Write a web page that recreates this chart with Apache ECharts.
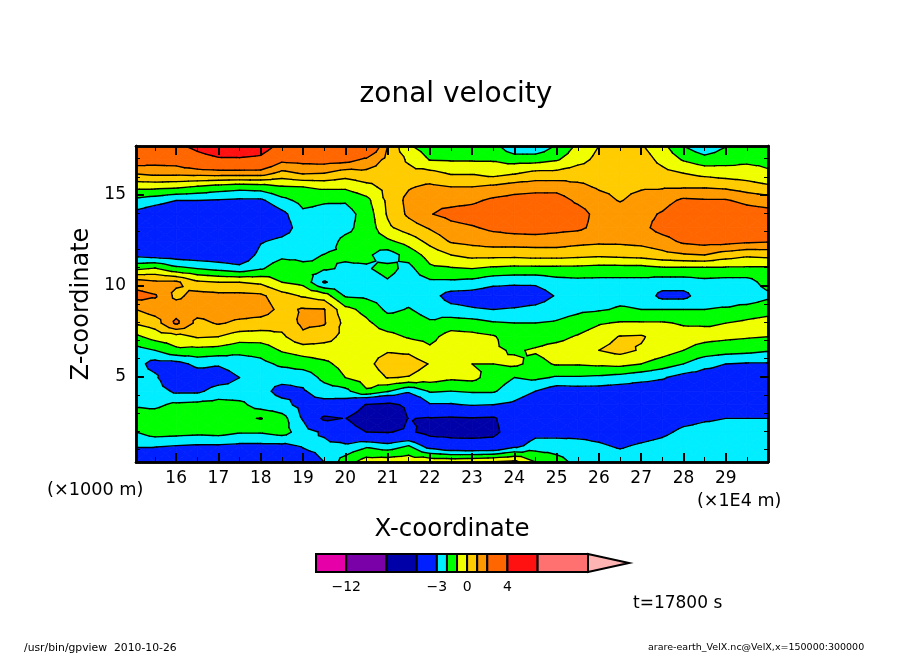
<!DOCTYPE html>
<html>
<head>
<meta charset="utf-8">
<style>
  html, body { margin: 0; padding: 0; background: #fff; }
  #main { width: 904px; height: 654px; }
</style>
<script src="https://cdn.jsdelivr.net/npm/echarts@6/dist/echarts.min.js"></script>
</head>
<body>
<div id="main"></div>
<script>
const FONT = "DejaVu Sans";

// grid of the field, x in 1E4 m, z in 1000 m
const xCoords = [15.05, 15.5, 16, 16.5, 17, 17.5, 18, 18.5, 19, 19.5, 20, 20.5, 21, 21.5, 22, 22.5,
  23, 23.5, 24, 24.5, 25, 25.5, 26, 26.5, 27, 27.5, 28, 28.5, 29, 29.5, 30];
const zCoords = [17.7, 16.95, 16.2, 15.45, 14.7, 13.95, 13.2, 12.45, 11.7, 10.95, 10.2, 9.45,
  8.7, 7.95, 7.2, 6.45, 5.7, 4.95, 4.2, 3.45, 2.7, 1.95, 1.2, 0.3];

// zonal velocity, one list per x, top to bottom
const uColumns = [
  [3.6, 2.7, 1.1, -0.7, -2.3, -3.3, -3.8, -3.8, -3.3, -1.2, 1.5, 2.4, 1, 0.1, -1.2, -2.4, -2.6, -2.6, -2.4, -2.1, -1.6, -2, -2.9, -3.6],
  [3.4, 2.5, 1.3, -0.7, -2.6, -3.7, -4.2, -4.2, -3.5, -0.9, 1.2, 2.1, 1.5, 0.5, -0.6, -2, -3.4, -2.8, -2.5, -2.2, -1.5, -1.5, -2.9, -4],
  [3.7, 2.6, 1.3, -0.8, -3, -4, -4.4, -4.4, -3.6, -1.7, 1.2, 0.75, 1.6, 2.2, -0.4, -1.2, -3.4, -4.2, -3.2, -1.8, -1.3, -1.6, -3, -4.2],
  [4.4, 3.4, 1.4, -1.1, -3, -4.1, -4.5, -4.5, -3.7, -2, 0.2, 1.4, 1.5, 0.7, 0.1, -1.3, -2.7, -3.7, -3.2, -1.7, -1.2, -1.7, -3.1, -4.3],
  [5, 3.8, 1.5, -1.4, -3.1, -4.2, -4.6, -4.6, -3.8, -2.3, 0, 1.3, 1.5, 1.1, 0, -1.4, -2.9, -3.5, -2.6, -1.6, -1.2, -1.6, -3.1, -4.3],
  [5.2, 3.8, 1.5, -1.6, -3.2, -4.3, -4.7, -4.7, -4, -2.6, 0, 1.3, 1.5, 0.8, -0.5, -1.7, -2.6, -3, -2.7, -1.7, -1.2, -1.9, -3.2, -4.3],
  [4.9, 3.6, 1.5, -1.5, -3.2, -4.1, -4, -3.1, -2.6, -2.1, -0.2, 1.2, 1.5, 0.6, -0.5, -1.6, -2.3, -2.7, -2.7, -2.5, -0.95, -1.9, -3.2, -4.5],
  [3.5, 2.3, 0.7, -1.1, -2.3, -3.3, -3.6, -2.7, -2.2, -1.5, -1, 0.4, 0.7, 0.4, -0.2, -0.9, -1.8, -2.7, -3.3, -2.7, -1.6, -1.6, -3.2, -4.5],
  [3.4, 2.4, 1.1, -1, -1.7, -2.2, -2.4, -2.4, -2.2, -1.8, -1.3, -0.1, 1.1, 1.2, 0.8, -0.6, -1.5, -2.7, -3.1, -3.3, -3.1, -2.5, -2.9, -3.6],
  [3.5, 2.5, 1, -0.8, -1.9, -2.3, -2.5, -2.4, -1.98, -1.9, -3.1, -0.5, 1.05, 1.1, 0.4, -0.5, -1.2, -1.7, -2.5, -3.4, -5.3, -3.2, -2.7, -3],
  [3.3, 2.4, 0.5, -0.8, -1.9, -2.4, -2.2, -1.8, -1.9, -2.1, -2.4, -2.1, -0.7, -0.3, -0.3, -0.4, -0.7, -1, -2.3, -3.6, -4.95, -4.2, -2.8, -1.5],
  [3.8, 1.8, 0.7, -0.3, -1.3, -1.6, -1.7, -1.7, -1.8, -2.1, -2.5, -2.2, -1.3, -0.8, -0.5, -0.4, -0.3, -0.6, -1.1, -5.1, -6, -5, -2.2, -0.5],
  [1, 0.7, 0.5, 0.3, 0.2, 0.1, -0.2, -1.2, -2.5, -1.7, -2.1, -2.4, -2.2, -1.5, -0.7, -0.1, 0.5, 0.05, -1.9, -5.4, -6.5, -5.1, -2.6, -0.4],
  [-0.9, -0.15, 0.3, 0.9, 1.3, 1.2, 0.5, -0.6, -1.6, -2.3, -2.5, -2.3, -1.95, -1.6, -1.1, -0.2, 0.5, -0.05, -2.8, -4.7, -4.95, -4.7, -2, -0.3],
  [-1.5, -1.05, 0.3, 1.2, 1.8, 1.95, 1.1, 0.3, -0.6, -1.2, -2.2, -2.6, -2.3, -1.9, -1.3, -0.8, -0.05, -0.5, -1.9, -3.1, -5.1, -5.6, -3.6, -0.2],
  [-1.5, -1.1, -0.1, 1, 1.7, 2.3, 1.7, 1.1, 0, -1.1, -2.2, -3.4, -2.7, -1.5, -0.6, -0.4, -0.3, -0.8, -2, -3.1, -5.2, -5.6, -4.2, -0.2],
  [-1.6, -1.1, -0.1, 1, 1.8, 2.5, 1.9, 1.3, 0.3, -1, -2.3, -3.5, -2.9, -1.6, -0.7, -0.4, -1, -0.7, -1.9, -2.9, -5.1, -5.6, -4.3, -0.1],
  [-1.6, -1.1, -0.4, 1.2, 2.2, 2.8, 2.2, 1.5, 0.3, -1.2, -2.7, -3.7, -3, -1.9, -0.9, -0.85, -1, -1.5, -1.9, -3, -5.2, -5.4, -4.3, 0.1],
  [-2.9, -1.4, -0.1, 1.5, 2.4, 3, 2.4, 1.5, 0.3, -1.3, -2.8, -3.7, -2.9, -2, -1.6, -1.1, -0.8, -2, -2.5, -3.2, -4, -4.1, -3.4, 0.3],
  [-2.9, -1.4, 0.3, 1.6, 2.5, 3, 2.5, 1.5, 0.4, -1.3, -2.8, -3.6, -2.7, -2, -1.4, -0.9, -1.3, -1.8, -3, -3.7, -4.1, -3.4, -2.5, -1],
  [-1.9, -1.1, 0.3, 1.6, 2.5, 2.8, 2.3, 1.5, 0.4, -1.3, -2.4, -2.9, -2.4, -1.9, -1.3, -0.6, -0.9, -2.1, -3.6, -4, -4, -3.4, -2.5, -1.6],
  [-0.8, -0.4, 0.6, 1.2, 1.8, 2.5, 2.2, 1.3, 0.3, -1.3, -2.3, -2.5, -2.2, -1.6, -0.9, -0.4, -0.9, -2.1, -3.5, -4, -3.9, -3.3, -2.7, -2.3],
  [0, 0.3, 0.6, 0.9, 1.3, 1.6, 1.7, 1.2, 0.2, -1.4, -2.3, -2.4, -2.1, -1.1, -0.4, 0, -0.8, -2.2, -3.5, -3.9, -3.8, -3.3, -2.9, -2.5],
  [0.5, 0.6, 0.7, 0.8, 0.95, 1.5, 1.6, 1.2, 0.3, -1.4, -2.3, -2.3, -1.9, -0.9, 0.05, 0.3, -0.7, -2.4, -3.6, -3.8, -3.8, -3.5, -3.1, -2.6],
  [0.1, 0.5, 0.7, 0.9, 1.3, 1.7, 1.7, 1.3, 0.4, -1.4, -2.3, -2.3, -2, -0.9, 0.1, -0.1, -1, -2.7, -3.6, -3.8, -3.7, -3.4, -2.9, -2.5],
  [-0.7, -0.3, 0.3, 0.9, 1.6, 2.1, 2.4, 1.6, 0.7, -1.2, -2.5, -3.3, -2, -0.9, -0.4, -0.5, -1.5, -2.9, -3.6, -3.7, -3.6, -3.2, -2.7, -2.3],
  [-2, -1.1, 0, 0.9, 2.2, 2.8, 2.7, 2.2, 0.9, -1.2, -2.5, -3.3, -2, -1.1, -0.6, -1, -2, -3.4, -3.8, -3.6, -3.3, -2.8, -2.4, -2.2],
  [-2.8, -1.6, -0.3, 0.9, 2.1, 3, 3, 2.4, 1, -1.2, -2.3, -2.4, -2, -1.1, -0.7, -1.4, -2.7, -3.5, -3.8, -3.5, -3.1, -2.7, -2.4, -2.2],
  [-2.05, -1.4, -0.5, 0.8, 2.1, 3, 3, 2.4, 0.5, -1.2, -2.4, -2.5, -1.9, -1, -0.8, -1.6, -3, -3.5, -3.8, -3.5, -3, -2.7, -2.4, -2.2],
  [-1.6, -1.2, -0.6, 0.5, 1.7, 2.6, 2.7, 2.2, 0.2, -1.2, -2.4, -2.7, -1.6, -0.8, -0.9, -1.7, -3.1, -3.6, -3.9, -3.5, -3, -2.7, -2.4, -2.2],
  [-1.4, -1.2, -0.9, 0.2, 1.5, 2.4, 2.5, 2.1, 0.3, -1.2, -1.6, -2.2, -1.4, -0.6, -1, -1.9, -3.1, -3.6, -3.8, -3.5, -3, -2.7, -2.4, -2.2]
];

// contour levels and the tone of each band between them
const bandEdges = [-15, -12, -8, -5, -3, -2, -1, 0, 1, 2, 4, 7, 12];
const bandColors = ["#e600a8", "#7a00a8", "#0000a8", "#0020ff", "#00eeff", "#00ff00", "#f0ff00",
  "#ffcc00", "#ff9900", "#ff6600", "#ff1111", "#ff7070"];
const overColor = "#ffb4b4";
const colorbarTip = 16.07;

const xMajorTicks = [16, 17, 18, 19, 20, 21, 22, 23, 24, 25, 26, 27, 28, 29];
const xMinorTicks = [15.5, 16.5, 17.5, 18.5, 19.5, 20.5, 21.5, 22.5, 23.5, 24.5, 25.5, 26.5, 27.5, 28.5, 29.5];
const zMajorTicks = [5, 10, 15];
const zMinorTicks = [1, 2, 3, 4, 6, 7, 8, 9, 11, 12, 13, 14, 16, 17];
const colorbarLabels = [-12, -3, 0, 4];

const xMin = 15.05, xMax = 30, zMin = 0.3, zMax = 17.7;

function clipAbove(poly, level, keepAbove) {
  const out = [];
  for (let k = 0; k < poly.length; k++) {
    const a = poly[k], b = poly[(k + 1) % poly.length];
    const aIn = keepAbove ? a[2] >= level : a[2] <= level;
    const bIn = keepAbove ? b[2] >= level : b[2] <= level;
    if (aIn) out.push(a);
    if (aIn !== bIn) {
      const t = (level - a[2]) / (b[2] - a[2]);
      out.push([a[0] + t * (b[0] - a[0]), a[1] + t * (b[1] - a[1]), level]);
    }
  }
  return out;
}

function cellTriangles(i, j) {
  const c = [
    [xCoords[i], zCoords[j], uColumns[i][j]],
    [xCoords[i + 1], zCoords[j], uColumns[i + 1][j]],
    [xCoords[i + 1], zCoords[j + 1], uColumns[i + 1][j + 1]],
    [xCoords[i], zCoords[j + 1], uColumns[i][j + 1]]
  ];
  const m = [
    (c[0][0] + c[1][0]) / 2,
    (c[0][1] + c[3][1]) / 2,
    (c[0][2] + c[1][2] + c[2][2] + c[3][2]) / 4
  ];
  return [[c[0], c[1], m], [c[1], c[2], m], [c[2], c[3], m], [c[3], c[0], m]];
}

function renderBands(params, api) {
  const children = [];
  cellTriangles(api.value(2), api.value(3)).forEach(tri => {
    bandColors.forEach((color, b) => {
      let poly = clipAbove(tri, bandEdges[b], true);
      if (poly.length) poly = clipAbove(poly, bandEdges[b + 1], false);
      if (poly.length < 3) return;
      children.push({
        type: "polygon",
        shape: { points: poly.map(p => api.coord([p[0], p[1]])) },
        style: { fill: color, stroke: color, lineWidth: 0.8 }
      });
    });
  });
  return { type: "group", children: children };
}

function renderContours(params, api) {
  const children = [];
  cellTriangles(api.value(2), api.value(3)).forEach(tri => {
    bandEdges.forEach(level => {
      const pts = [];
      for (let k = 0; k < 3; k++) {
        const a = tri[k], b = tri[(k + 1) % 3];
        if ((a[2] < level) !== (b[2] < level)) {
          const t = (level - a[2]) / (b[2] - a[2]);
          pts.push(api.coord([a[0] + t * (b[0] - a[0]), a[1] + t * (b[1] - a[1])]));
        }
      }
      if (pts.length === 2) {
        children.push({
          type: "line",
          shape: { x1: pts[0][0], y1: pts[0][1], x2: pts[1][0], y2: pts[1][1] },
          style: { stroke: "#000", lineWidth: 1.4, lineCap: "round" }
        });
      }
    });
  });
  return { type: "group", children: children };
}

function renderColorbar(params, api) {
  const b = api.value(2);
  const lo = api.coord([bandEdges[b], 0]), hi = api.coord([bandEdges[b + 1], 1]);
  return {
    type: "rect",
    shape: { x: lo[0], y: hi[1], width: hi[0] - lo[0], height: lo[1] - hi[1] },
    style: { fill: bandColors[b], stroke: "#000", lineWidth: 2 }
  };
}

function renderArrow(params, api) {
  const points = [
    api.coord([bandEdges[bandEdges.length - 1], 1]),
    api.coord([colorbarTip, 0.5]),
    api.coord([bandEdges[bandEdges.length - 1], 0])
  ];
  return {
    type: "polygon",
    shape: { points: points },
    style: { fill: overColor, stroke: "#000", lineWidth: 2 }
  };
}

const cells = [];
for (let i = 0; i < xCoords.length - 1; i++) {
  for (let j = 0; j < zCoords.length - 1; j++) {
    cells.push([xCoords[i], zCoords[j], i, j]);
  }
}

function frameAxis(position, min, max, ticks, tickLength, tickWidth, extra) {
  return Object.assign({
    type: "value",
    gridIndex: 0,
    position: position,
    min: min,
    max: max,
    z: 10,
    splitLine: { show: false },
    axisLine: { show: true, onZero: false, lineStyle: { color: "#000", width: 2.5 } },
    axisTick: {
      show: true, inside: true, length: tickLength, customValues: ticks,
      lineStyle: { color: "#000", width: tickWidth }
    },
    axisLabel: { show: false, customValues: ticks }
  }, extra || {});
}

const tickLabel = { show: true, color: "#000", fontFamily: FONT, fontSize: 17 };

const chart = echarts.init(document.getElementById("main"), null, { renderer: "canvas" });

chart.setOption({
  animation: false,
  backgroundColor: "#fff",
  title: {
    text: "zonal velocity",
    left: 451,
    top: 76,
    textAlign: "center",
    textStyle: { color: "#000", fontFamily: FONT, fontWeight: "normal", fontSize: 28 }
  },
  grid: [
    { left: 136, right: 136, top: 146, bottom: 192 },
    { left: 316, top: 554, width: 313, height: 18 }
  ],
  xAxis: [
    frameAxis("bottom", xMin, xMax, xMajorTicks, 9, 2, {
      axisLabel: Object.assign({}, tickLabel, { customValues: xMajorTicks, margin: 8 }),
      name: "X-coordinate",
      nameLocation: "middle",
      nameGap: 55,
      nameTextStyle: { color: "#000", fontFamily: FONT, fontSize: 24.5 }
    }),
    frameAxis("bottom", xMin, xMax, xMinorTicks, 5, 1),
    frameAxis("top", xMin, xMax, xMajorTicks, 9, 2),
    frameAxis("top", xMin, xMax, xMinorTicks, 5, 1),
    {
      type: "value",
      gridIndex: 1,
      position: "bottom",
      min: bandEdges[0],
      max: colorbarTip,
      splitLine: { show: false },
      axisLine: { show: false },
      axisTick: { show: false, customValues: colorbarLabels },
      axisLabel: {
        show: true, color: "#000", fontFamily: FONT, fontSize: 14, margin: 8,
        customValues: colorbarLabels,
        formatter: v => String(v).replace("-", "\u2212")
      }
    }
  ],
  yAxis: [
    frameAxis("left", zMin, zMax, zMajorTicks, 8, 2, {
      axisLabel: Object.assign({}, tickLabel, { customValues: zMajorTicks, margin: 10 }),
      name: "Z-coordinate",
      nameLocation: "middle",
      nameGap: 40,
      nameTextStyle: { color: "#000", fontFamily: FONT, fontSize: 24 }
    }),
    frameAxis("left", zMin, zMax, zMinorTicks, 4, 1),
    frameAxis("right", zMin, zMax, zMajorTicks, 8, 2),
    frameAxis("right", zMin, zMax, zMinorTicks, 4, 1),
    {
      type: "value",
      gridIndex: 1,
      min: 0,
      max: 1,
      show: false
    }
  ],
  series: [
    {
      type: "custom",
      xAxisIndex: 0,
      yAxisIndex: 0,
      silent: true,
      clip: true,
      z: 2,
      renderItem: renderBands,
      encode: { x: 0, y: 1 },
      data: cells
    },
    {
      type: "custom",
      xAxisIndex: 0,
      yAxisIndex: 0,
      silent: true,
      clip: true,
      z: 3,
      renderItem: renderContours,
      encode: { x: 0, y: 1 },
      data: cells
    },
    {
      type: "custom",
      xAxisIndex: 4,
      yAxisIndex: 4,
      silent: true,
      z: 3,
      renderItem: renderArrow,
      encode: { x: 0, y: 1 },
      data: [[bandEdges[bandEdges.length - 1], 0.5]]
    },
    {
      type: "custom",
      xAxisIndex: 4,
      yAxisIndex: 4,
      silent: true,
      z: 4,
      renderItem: renderColorbar,
      encode: { x: 0, y: 1 },
      data: bandColors.map((c, b) => [bandEdges[b], 0.5, b])
    }
  ],
  graphic: [
    { type: "text", left: 47, top: 481, style: { text: "(\u00d71000 m)", fill: "#000", font: "17.7px " + FONT } },
    { type: "text", left: 697, top: 492, style: { text: "(\u00d71E4 m)", fill: "#000", font: "17.5px " + FONT } },
    { type: "text", left: 633, top: 595, style: { text: "t=17800 s", fill: "#000", font: "17px " + FONT } },
    { type: "text", left: 24, top: 643, style: { text: "/usr/bin/gpview  2010-10-26", fill: "#000", font: "10.8px " + FONT } },
    { type: "text", left: 648, top: 643, style: { text: "arare-earth_VelX.nc@VelX,x=150000:300000", fill: "#000", font: "9.5px " + FONT } }
  ]
});
</script>
</body>
</html>
